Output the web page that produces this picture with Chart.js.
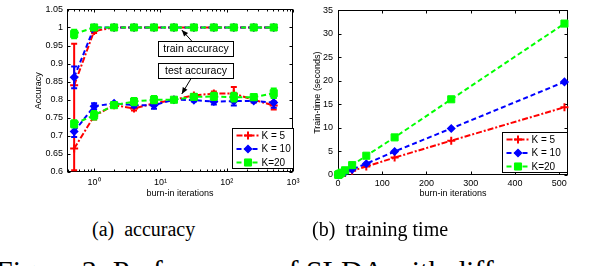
<!DOCTYPE html>
<html>
<head>
<meta charset="utf-8">
<script src="https://cdn.jsdelivr.net/npm/chart.js@4.4.0/dist/chart.umd.min.js"></script>
<style>
  body { margin: 0; width: 598px; height: 266px; overflow: hidden; background: #fff; position: relative; }
  canvas { position: absolute; top: 0; }
  #acc { left: 0; }
  #time { left: 300px; }
  .cap { position: absolute; font-family: "Liberation Serif", serif; white-space: pre; color: #000; }
</style>
</head>
<body>
<canvas id="acc" width="310" height="200"></canvas>
<canvas id="time" width="298" height="200"></canvas>
<div class="cap" style="left:92px; top:219px; font-size:20px; line-height:20px;">(a)  accuracy</div>
<div class="cap" style="left:312px; top:219px; font-size:20px; line-height:20px;">(b)  training time</div>
<div class="cap" style="left:-4px; top:256px; font-size:30px; line-height:30px;">Figure 3: Performance of SLDA with diffe</div>
<script>
// burn-in iterations (x for both panels)
const iters = [0.5, 1, 2, 4, 8, 16, 32, 64, 128, 256, 512];

// (a) accuracy, mean and error bar half-height
const trainK5  = [0.84, 0.99, 1, 1, 1, 1, 1, 1, 1, 1, 1];
const trainK10 = [0.862, 1, 1, 1, 1, 1, 1, 1, 1, 1, 1];
const trainK20 = [0.982, 1, 1, 1, 1, 1, 1, 1, 1, 1, 1];
const testK5   = [0.665, 0.755, 0.785, 0.776, 0.79, 0.80, 0.812, 0.817, 0.817, 0.80, 0.784];
const testK10  = [0.712, 0.782, 0.79, 0.785, 0.785, 0.80, 0.799, 0.795, 0.796, 0.797, 0.792];
const testK20  = [0.733, 0.757, 0.785, 0.795, 0.80, 0.80, 0.808, 0.809, 0.807, 0.807, 0.818];
const trainK5Err  = [0.115, 0.005, 0, 0, 0, 0, 0, 0, 0, 0, 0];
const trainK10Err = [0.03, 0.006, 0, 0, 0, 0, 0, 0, 0, 0, 0];
const trainK20Err = [0.012, 0.005, 0, 0, 0, 0, 0, 0, 0, 0, 0];
const testK5Err   = [0.06, 0.01, 0.005, 0.006, 0.006, 0.004, 0.004, 0.006, 0.018, 0.008, 0.011];
const testK10Err  = [0.015, 0.008, 0.004, 0.006, 0.01, 0.004, 0.004, 0.008, 0.012, 0.004, 0.014];
const testK20Err  = [0.01, 0.012, 0.004, 0.01, 0.01, 0.005, 0.005, 0.01, 0.012, 0.008, 0.013];

// (b) training time in seconds
const timeK5  = [0.02, 0.03, 0.06, 0.12, 0.22, 0.45, 0.9, 1.8, 3.7, 7.3, 14.4];
const timeK10 = [0.02, 0.04, 0.08, 0.15, 0.3, 0.6, 1.2, 2.4, 5.0, 9.9, 19.8];
const timeK20 = [0.04, 0.07, 0.13, 0.26, 0.5, 1.0, 2.1, 4.1, 8.0, 16.1, 32.2];

// ticks
const accTicks = [0.6, 0.65, 0.7, 0.75, 0.8, 0.85, 0.9, 0.95, 1, 1.05];
const logTicks = [1, 10, 100, 1000];
const logLabels = ['10\u2070', '10\u00b9', '10\u00b2', '10\u00b3'];
const timeXTicks = [0, 100, 200, 300, 400, 500];
const timeYTicks = [0, 5, 10, 15, 20, 25, 30, 35];

const legendLabels = ['K = 5', 'K = 10', 'K=20'];

// styles per K
const sty = [
  { color: '#ff0000', dash: [6, 2, 2, 2], point: 'cross', r: 4, bw: 2 },
  { color: '#0000ff', dash: [5, 3], point: 'rectRot', r: 3.5, bw: 1.5 },
  { color: '#00ff00', dash: [5, 3], point: 'rect', r: 5, bw: 1 }
];

const font = { family: 'Liberation Sans', size: 9 };

function pts(xs, ys) { return xs.map((x, i) => ({ x: x, y: ys[i] })); }

function makeSet(k, ys, errs, legend) {
  const s = sty[k];
  return {
    data: pts(iters, ys), errors: errs, legend: legend ? legendLabels[k] : null, sty: s,
    borderColor: s.color, backgroundColor: s.color, borderWidth: 2, borderDash: s.dash,
    pointStyle: s.point, pointRadius: s.r, pointBorderWidth: s.bw,
    pointBackgroundColor: s.color, pointBorderColor: s.color,
    tension: 0, clip: false, order: 2 - k
  };
}

function drawMarker(ctx, s, x, y) {
  ctx.save();
  ctx.setLineDash([]);
  ctx.strokeStyle = s.color; ctx.fillStyle = s.color; ctx.lineWidth = s.bw;
  ctx.beginPath();
  if (s.point === 'cross') {
    ctx.moveTo(x - s.r, y); ctx.lineTo(x + s.r, y);
    ctx.moveTo(x, y - s.r); ctx.lineTo(x, y + s.r);
  } else if (s.point === 'rectRot') {
    ctx.moveTo(x, y - s.r); ctx.lineTo(x + s.r, y); ctx.lineTo(x, y + s.r); ctx.lineTo(x - s.r, y); ctx.closePath();
    ctx.fill();
  } else {
    const h = s.r * Math.SQRT1_2;
    ctx.rect(x - h, y - h, 2 * h, 2 * h);
    ctx.fill();
  }
  ctx.stroke();
  ctx.restore();
}

// box round the axes with inward tick marks on all four sides
const frame = {
  id: 'frame',
  beforeDatasetsDraw(chart, args, opts) {
    const { ctx, chartArea: a, scales: { x, y } } = chart;
    const L = Math.round(a.left) + 0.5, R = Math.round(a.right) - 0.5;
    const T = Math.round(a.top) + 0.5, B = Math.round(a.bottom) - 0.5;
    ctx.save();
    ctx.strokeStyle = '#000'; ctx.lineWidth = 1;
    ctx.strokeRect(L, T, R - L, B - T);
    ctx.beginPath();
    y.ticks.forEach(t => {
      const p = Math.round(y.getPixelForValue(t.value)) + 0.5;
      ctx.moveTo(L, p); ctx.lineTo(L + 3, p);
      ctx.moveTo(R, p); ctx.lineTo(R - 3, p);
    });
    const xs = x.ticks.map(t => t.value).concat(opts.minor || []);
    xs.forEach((v, i) => {
      const p = Math.round(x.getPixelForValue(v)) + 0.5;
      const len = i < x.ticks.length ? 3 : 2;
      ctx.moveTo(p, B); ctx.lineTo(p, B - len);
      ctx.moveTo(p, T); ctx.lineTo(p, T + len);
    });
    ctx.stroke();
    ctx.restore();
  }
};

// vertical error bars drawn with their own dataset
const errorBars = {
  id: 'errorBars',
  afterDatasetDraw(chart, args) {
    const ds = chart.data.datasets[args.index];
    if (!ds.errors) return;
    const { ctx, scales: { y } } = chart;
    ctx.save();
    ctx.strokeStyle = ds.borderColor; ctx.lineWidth = 2; ctx.setLineDash([]);
    ctx.beginPath();
    args.meta.data.forEach((el, i) => {
      const e = ds.errors[i];
      if (!e) return;
      const t = y.getPixelForValue(ds.data[i].y + e), b = y.getPixelForValue(ds.data[i].y - e);
      ctx.moveTo(el.x, t); ctx.lineTo(el.x, b);
      ctx.moveTo(el.x - 3, t); ctx.lineTo(el.x + 3, t);
      ctx.moveTo(el.x - 3, b); ctx.lineTo(el.x + 3, b);
    });
    ctx.stroke();
    ctx.restore();
  }
};

// legend box in the lower right corner of the axes
const legendBox = {
  id: 'legendBox',
  afterDraw(chart, args, opts) {
    const { ctx, chartArea: a } = chart;
    const items = chart.data.datasets.filter(d => d.legend).sort((p, q) => q.order - p.order);
    const w = opts.w, h = 40;
    const left = Math.round(a.right - opts.dx - w) + 0.5, top = Math.round(a.bottom - opts.dy - h) + 0.5;
    ctx.save();
    ctx.fillStyle = '#fff'; ctx.strokeStyle = '#000'; ctx.lineWidth = 1;
    ctx.fillRect(left, top, w, h); ctx.strokeRect(left, top, w, h);
    ctx.font = '10px "Liberation Sans"'; ctx.textBaseline = 'middle';
    items.forEach((d, i) => {
      const yy = top + 7 + i * 13.5;
      ctx.strokeStyle = d.sty.color; ctx.lineWidth = 2; ctx.setLineDash(d.sty.dash);
      ctx.beginPath(); ctx.moveTo(left + 4, yy); ctx.lineTo(left + 27, yy); ctx.stroke();
      drawMarker(ctx, d.sty, left + 15.5, yy);
      ctx.fillStyle = '#000';
      ctx.fillText(d.legend, left + 29, yy + 0.5);
    });
    ctx.restore();
  }
};

// text boxes with arrows, anchored in data coordinates
const notes = {
  id: 'notes',
  afterDraw(chart, args, opts) {
    const { ctx, scales: { x, y } } = chart;
    ctx.save();
    ctx.font = '10.5px "Liberation Sans"'; ctx.textAlign = 'center'; ctx.textBaseline = 'middle';
    (opts.items || []).forEach(n => {
      const cx = x.getPixelForValue(n.at[0]), cy = y.getPixelForValue(n.at[1]);
      const hx = x.getPixelForValue(n.head[0]), hy = y.getPixelForValue(n.head[1]);
      const sx = cx - 4, sy = cy + (hy < cy ? -7.5 : 7.5);
      ctx.strokeStyle = '#000'; ctx.fillStyle = '#000'; ctx.lineWidth = 1;
      ctx.beginPath(); ctx.moveTo(sx, sy); ctx.lineTo(hx, hy); ctx.stroke();
      const ang = Math.atan2(hy - sy, hx - sx);
      ctx.beginPath();
      ctx.moveTo(hx, hy);
      ctx.lineTo(hx - 7 * Math.cos(ang - 0.4), hy - 7 * Math.sin(ang - 0.4));
      ctx.lineTo(hx - 7 * Math.cos(ang + 0.4), hy - 7 * Math.sin(ang + 0.4));
      ctx.closePath(); ctx.fill();
      const w = 75, h = 15;
      const bl = Math.round(cx - w / 2) + 0.5, bt = Math.round(cy - h / 2) + 0.5;
      ctx.fillStyle = '#fff'; ctx.fillRect(bl, bt, w, h); ctx.strokeRect(bl, bt, w, h);
      ctx.fillStyle = '#000'; ctx.fillText(n.text, bl + w / 2, bt + h / 2 + 0.5);
    });
    ctx.restore();
  }
};

const minorLog = [];
[0.1, 1, 10, 100].forEach(d => { for (let m = 2; m <= 9; m++) if (d * m > 0.39 && d * m < 1000) minorLog.push(d * m); });

new Chart(document.getElementById('acc'), {
  type: 'line',
  data: {
    datasets: [
      makeSet(0, trainK5, trainK5Err, true), makeSet(0, testK5, testK5Err, false),
      makeSet(1, trainK10, trainK10Err, true), makeSet(1, testK10, testK10Err, false),
      makeSet(2, trainK20, trainK20Err, true), makeSet(2, testK20, testK20Err, false)
    ]
  },
  options: {
    responsive: false, animation: false, devicePixelRatio: 1,
    layout: { padding: { left: 0, right: 17, top: 5, bottom: 0 } },
    plugins: {
      legend: { display: false }, tooltip: { enabled: false },
      frame: { minor: minorLog },
      legendBox: { w: 61, dx: 0, dy: 4 },
      notes: { items: [
        { text: 'train accuracy', at: [34, 0.942], head: [21, 0.993] },
        { text: 'test accuracy', at: [34, 0.882], head: [21, 0.816] }
      ] }
    },
    scales: {
      x: {
        type: 'logarithmic', min: 0.39, max: 1000,
        grid: { display: false, drawTicks: false }, border: { display: false },
        afterBuildTicks: s => { s.ticks = logTicks.map(v => ({ value: v })); },
        afterFit: s => { s.height = 28; },
        ticks: { font: font, color: '#000', padding: 5, maxRotation: 0, autoSkip: false,
                 callback: v => logLabels[logTicks.indexOf(v)] },
        title: { display: true, text: 'burn-in iterations', font: font, color: '#000', padding: { top: 0, bottom: 1 } }
      },
      y: {
        min: 0.6, max: 1.05,
        grid: { display: false, drawTicks: false }, border: { display: false },
        afterBuildTicks: s => { s.ticks = accTicks.map(v => ({ value: v })); },
        afterFit: s => { s.width = 67; },
        ticks: { font: font, color: '#000', padding: 4, callback: v => String(Math.round(v * 100) / 100) },
        title: { display: true, text: 'Accuracy', font: font, color: '#000', padding: { top: 33, bottom: 0 } }
      }
    }
  },
  plugins: [frame, errorBars, legendBox, notes]
});

new Chart(document.getElementById('time'), {
  type: 'line',
  data: {
    datasets: [
      makeSet(0, timeK5, null, true),
      makeSet(1, timeK10, null, true),
      makeSet(2, timeK20, null, true)
    ]
  },
  options: {
    responsive: false, animation: false, devicePixelRatio: 1,
    layout: { padding: { left: 0, right: 30, top: 4, bottom: 0 } },
    plugins: {
      legend: { display: false }, tooltip: { enabled: false },
      legendBox: { w: 65, dx: 1, dy: 3 }
    },
    scales: {
      x: {
        type: 'linear', min: 0, max: 520,
        grid: { display: false, drawTicks: false }, border: { display: false },
        afterBuildTicks: s => { s.ticks = timeXTicks.map(v => ({ value: v })); },
        afterFit: s => { s.height = 25; },
        ticks: { font: font, color: '#000', padding: 3, maxRotation: 0, autoSkip: false },
        title: { display: true, text: 'burn-in iterations', font: font, color: '#000', padding: { top: 0, bottom: 1 } }
      },
      y: {
        min: 0, max: 35,
        grid: { display: false, drawTicks: false }, border: { display: false },
        afterBuildTicks: s => { s.ticks = timeYTicks.map(v => ({ value: v })); },
        afterFit: s => { s.width = 38; },
        ticks: { font: font, color: '#000', padding: 5 },
        title: { display: true, text: 'Train-time (seconds)', font: font, color: '#000', padding: { top: 12, bottom: 0 } }
      }
    }
  },
  plugins: [frame, legendBox]
});
</script>
</body>
</html>
